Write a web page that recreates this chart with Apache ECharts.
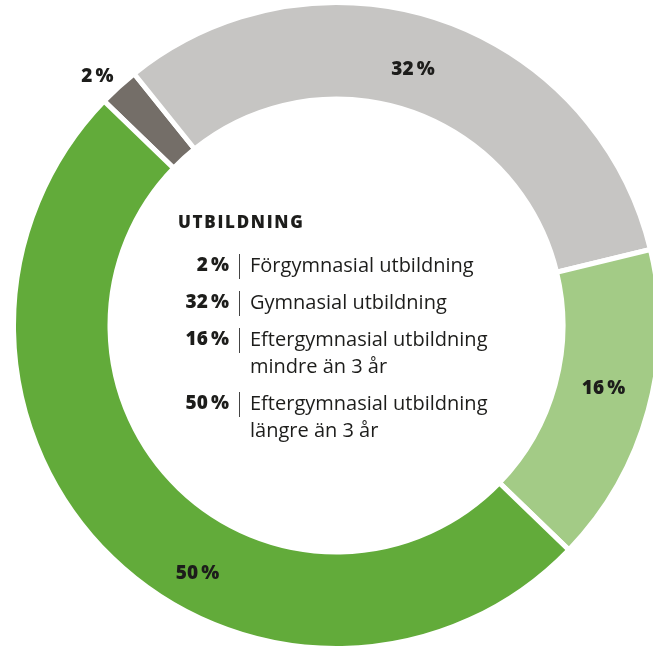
<!DOCTYPE html>
<html>
<head>
<meta charset="utf-8">
<script src="https://cdn.jsdelivr.net/npm/echarts@6/dist/echarts.min.js"></script>
<style>
  html, body { margin: 0; padding: 0; background: #fff; }
  #chart { width: 653px; height: 649px; }
</style>
</head>
<body>
<div id="chart"></div>
<script>
// education levels, clockwise from upper left
const categories = ['Förgymnasial utbildning', 'Gymnasial utbildning', 'Eftergymnasial utbildning\nmindre än 3 år', 'Eftergymnasial utbildning\nlängre än 3 år'];
const values = [2, 32, 16, 50];
const colors = ['#746e68', '#c6c5c3', '#a3cb86', '#62ab3a'];
const legendTitle = 'UTBILDNING';

const cx = 336.5, cy = 325.5;
const textColor = '#1d1d1b';

// nudges so the slice labels sit where the original put them
const labelOffsets = [[8, -2], [-13, 7], [-1, -10], [54, 48]];

// center legend built from the arrays
const legend = [{
  type: 'text',
  style: {
    text: legendTitle.split('').join('\u200a'),
    x: 178, y: 223, fill: textColor,
    font: '800 17px "Open Sans"', textVerticalAlign: 'middle', textAlign: 'left'
  }
}];
let rowY = 266;
categories.forEach((name, i) => {
  const lines = name.split('\n').length;
  legend.push({
    type: 'text',
    style: { text: values[i] + '\u2009%', x: 229, y: rowY, fill: textColor, font: '800 19px "Open Sans"', textAlign: 'right', textVerticalAlign: 'middle' }
  });
  legend.push({
    type: 'line',
    shape: { x1: 239.5, y1: rowY - 12, x2: 239.5, y2: rowY + 13 },
    style: { stroke: '#444', lineWidth: 1 }
  });
  legend.push({
    type: 'text',
    style: { text: name, x: 250, y: rowY - 13.5, fill: textColor, font: '20px "Open Sans"', lineHeight: 27, textAlign: 'left', textVerticalAlign: 'top' }
  });
  rowY += lines * 27 + 10;
});

const chart = echarts.init(document.getElementById('chart'));
chart.setOption({
  animation: false,
  backgroundColor: '#fff',
  graphic: legend,
  series: [{
    type: 'pie',
    center: [cx, cy],
    // the white border eats 2.5px on each edge
    radius: [226.5, 323],
    startAngle: 136,
    clockwise: true,
    avoidLabelOverlap: false,
    itemStyle: { borderColor: '#fff', borderWidth: 5 },
    label: {
      show: true,
      position: 'inside',
      formatter: '{c}\u2009%',
      color: textColor,
      fontFamily: 'Open Sans',
      fontWeight: 800,
      fontSize: 19
    },
    labelLine: { show: false },
    data: values.map((v, i) => {
      const item = {
        value: v, name: categories[i],
        itemStyle: { color: colors[i] },
        label: { offset: labelOffsets[i] }
      };
      if (i === 0) {
        item.label.position = 'outside';
        item.labelLine = { show: false, length: 12, length2: 0 };
      }
      return item;
    })
  }]
});
</script>
</body>
</html>
